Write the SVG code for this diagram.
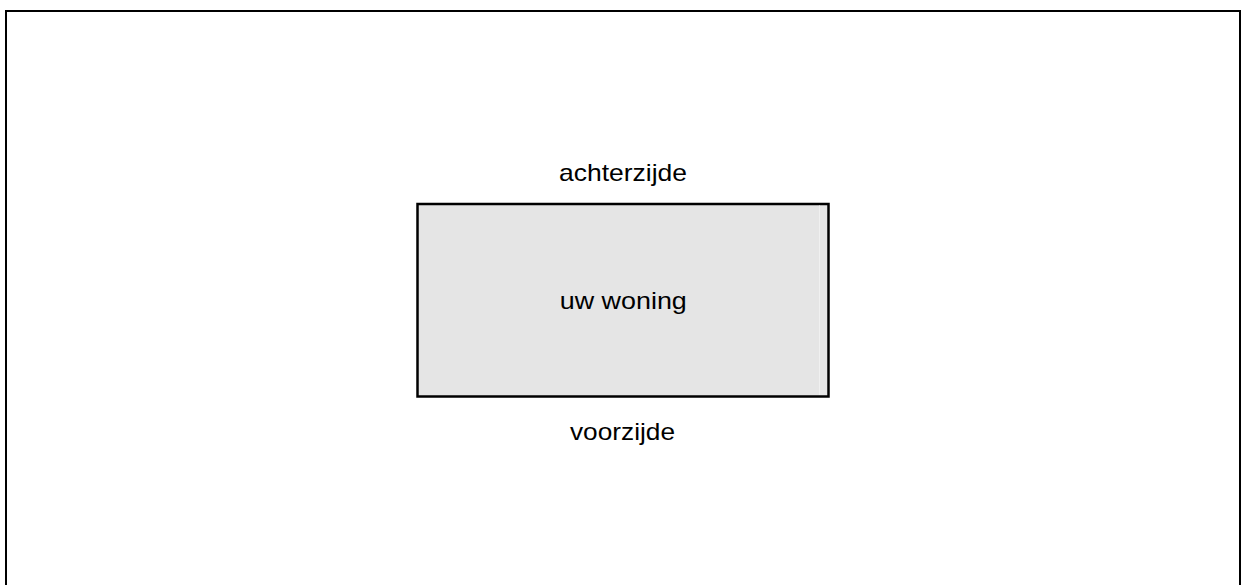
<svg xmlns="http://www.w3.org/2000/svg" width="1243" height="585" viewBox="0 0 1243 585">
<style>
.lbl{font-family:"Liberation Sans",Arial,sans-serif;font-size:24px;fill:#000;text-anchor:middle}
</style>
<rect x="0" y="0" width="1243" height="585" fill="#fff"/>
<g id="frame">
<rect x="6" y="11" width="1234" height="600" fill="none" stroke="#000" stroke-width="2"/>
</g>
<g id="woning">
<rect x="417.5" y="204" width="411" height="192.5" fill="#e5e5e5" stroke="#000" stroke-width="2.5"/>
<line x1="819.5" y1="205.5" x2="819.5" y2="395" stroke="#f0f0f0" stroke-width="1"/>
<text class="lbl" x="623.3" y="309.3" textLength="127" lengthAdjust="spacingAndGlyphs">uw woning</text>
</g>
<g id="achterzijde">
<text class="lbl" x="623" y="181" textLength="128" lengthAdjust="spacingAndGlyphs">achterzijde</text>
</g>
<g id="voorzijde">
<text class="lbl" x="622.5" y="439.5" textLength="105" lengthAdjust="spacingAndGlyphs">voorzijde</text>
</g>
<g id="connectors"></g>
</svg>
